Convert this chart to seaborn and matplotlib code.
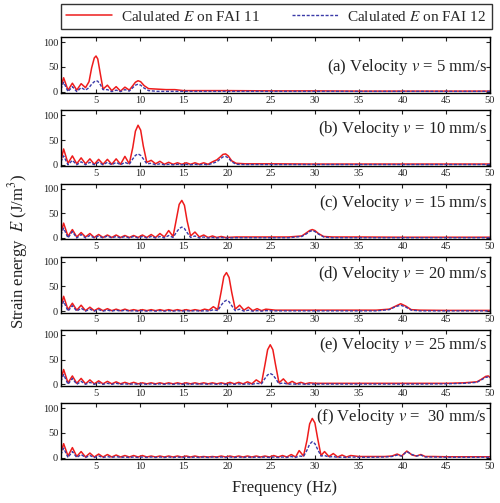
import matplotlib
matplotlib.use("Agg")
import matplotlib.pyplot as plt
import seaborn as sns
import pandas as pd

# ---------------- data ----------------
panel_labels = ["(a) Velocity $v$ = 5 mm/s", "(b) Velocity $v$ = 10 mm/s",
                "(c) Velocity $v$ = 15 mm/s", "(d) Velocity $v$ = 20 mm/s",
                "(e) Velocity $v$ = 25 mm/s", "(f) Velocity $v$ =  30 mm/s"]
series_names = ["Calulated $E$ on FAI 11", "Calulated $E$ on FAI 12"]
x_ticks = [5, 10, 15, 20, 25, 30, 35, 40, 45, 50]
y_ticks = [0, 50, 100]

freq_a = [1.0, 1.3, 1.8, 2.3, 2.8, 3.3, 3.8, 4.2, 4.5, 4.8, 5.0, 5.2, 5.5, 5.8, 6.3, 6.8, 7.3, 7.8, 8.3, 8.8,
          9.2, 9.5, 9.8, 10.1, 10.5, 11.0, 12, 13, 14, 15, 17, 20, 25, 30, 35, 40, 45, 50]
red_a = [10, 28, 3, 17, 3, 16, 8, 20, 48, 68, 72, 66, 35, 5, 13, 2, 10, 1, 9, 3,
         12, 19, 22, 20, 12, 6, 5, 4, 4, 2, 2, 2, 1.5, 1.5, 1, 1, 1, 1]
blue_a = [5, 19, 0, 10, 0, 8, 3, 8, 15, 20, 22, 21, 14, 4, 4, 0, 3, 0, 4, 1,
          8, 13, 15, 13, 7, 2, 0.5, 0.5, 0.5, 0.5, 0.5, 0.5, 0.5, 0.5, 0.5, 0.5, 0.5, 0.5]

freq_b = [1.0, 1.3, 1.8, 2.3, 2.8, 3.3, 3.8, 4.3, 4.8, 5.3, 5.8, 6.3, 6.8, 7.3, 7.8, 8.3, 8.8, 9.2, 9.5, 9.8,
          10.1, 10.4, 10.8, 11.3, 11.8, 12.3, 12.8, 13.3, 13.8, 14.3, 14.8, 15.3, 15.8, 16.3, 16.8, 17.3, 17.8,
          18.3, 18.8, 19.2, 19.5, 19.8, 20.1, 20.5, 21.0, 22, 23, 25, 30, 35, 40, 45, 50]
red_b = [8, 32, 3, 18, 2, 14, 2, 12, 1, 11, 1, 11, 1, 12, 1, 17, 2, 35, 68, 80,
         70, 38, 5, 9, 2, 7, 1, 5, 1, 4, 1, 4, 1, 4, 1, 4, 1,
         6, 10, 16, 21, 22, 18, 8, 3, 2, 2, 2, 1.5, 1.5, 1.5, 1.5, 1.5]
blue_b = [6, 18, 0, 9, 0, 6, 0, 5, 0, 5, 0, 5, 0, 5, 0, 5, 1, 12, 19, 22,
          19, 12, 2, 3, 0, 2, 0, 1, 0, 1, 0, 1, 0, 1, 0, 1, 0,
          3, 6, 12, 16, 17, 14, 6, 1, 0.5, 0.5, 0.5, 0.5, 0.5, 0.5, 0.5, 0.5]

freq_c = [1.0, 1.3, 1.8, 2.3, 2.8, 3.3, 3.8, 4.3, 4.8, 5.3, 5.8, 6.3, 6.8, 7.3, 7.8, 8.3, 8.8, 9.3, 9.8, 10.3,
          10.8, 11.3, 11.8, 12.3, 12.8, 13.3, 13.8, 14.2, 14.5, 14.8, 15.1, 15.4, 15.8, 16.3, 16.8, 17.3, 17.8,
          18.3, 18.8, 19.3, 19.8, 21, 23, 25, 27, 28.5, 29.0, 29.4, 29.7, 30.0, 30.4, 31.0, 32, 35, 40, 45, 50]
red_c = [10, 30, 3, 17, 2, 11, 2, 9, 1, 7, 1, 6, 1, 6, 1, 5, 1, 5, 1, 6,
         1, 7, 1, 9, 2, 15, 3, 40, 68, 76, 66, 35, 4, 12, 2, 6, 1,
         4, 1, 3, 1, 2, 2, 2, 2, 4, 10, 15, 17, 15, 9, 3, 2, 2, 1.5, 1.5, 1.5]
blue_c = [6, 20, 0, 13, 0, 7, 0, 5, 0, 4, 0, 4, 0, 3, 0, 3, 0, 3, 0, 3,
          0, 3, 0, 3, 0, 5, 1, 12, 19, 22, 19, 11, 1, 4, 0, 2, 0,
          1, 0, 1, 0, 0.5, 0.5, 0.5, 0.5, 3, 8, 13, 15, 13, 8, 2, 0.5, 0.5, 0.5, 0.5, 0.5]

freq_d = [1.0, 1.3, 1.8, 2.3, 2.8, 3.3, 3.8, 4.3, 4.8, 5.3, 5.8, 6.3, 6.8, 7.3, 7.8, 8.3, 8.8, 9.3, 9.8, 10.3,
          10.8, 11.3, 11.8, 12.3, 12.8, 13.3, 13.8, 14.3, 14.8, 15.3, 15.8, 16.3, 16.9, 17.4, 17.9,
          18.4, 18.9, 19.3, 19.6, 19.9, 20.2, 20.5, 20.9, 21.4, 21.9, 22.4, 22.9, 23.4, 23.9, 24.4,
          25.5, 28, 31, 34, 37, 38.5, 39.2, 39.8, 40.4, 41.0, 42, 45, 50]
red_d = [10, 30, 3, 16, 2, 12, 1, 8, 1, 6, 1, 5, 1, 4, 1, 4, 1, 3, 1, 3,
         1, 3, 1, 3, 1, 3, 1, 3, 1, 3, 1, 3, 1, 4, 2,
         9, 3, 40, 70, 78, 68, 38, 4, 12, 2, 8, 1, 5, 1, 4,
         2, 2, 2, 2, 2, 4, 10, 15, 10, 3, 2, 1.5, 1.5]
blue_d = [6, 20, 0, 11, 0, 6, 0, 4, 0, 3, 0, 2, 0, 2, 0, 2, 0, 1, 0, 1,
          0, 1, 0, 1, 0, 1, 0, 1, 0, 1, 0, 1, 0, 1, 0,
          3, 1, 12, 19, 22, 19, 11, 1, 4, 0, 2, 0, 1, 0, 1,
          0.5, 0.5, 0.5, 0.5, 0.5, 3, 9, 12, 8, 2, 0.5, 0.5, 0.5]

freq_e = [1.0, 1.3, 1.8, 2.3, 2.8, 3.3, 3.8, 4.3, 4.8, 5.3, 5.8, 6.3, 6.8, 7.3, 7.8, 8.3, 8.8, 9.3, 9.8, 10.3,
          10.8, 11.3, 11.8, 12.3, 12.8, 13.3, 13.8, 14.3, 14.8, 15.3, 15.8, 16.3, 16.8, 17.3, 17.8,
          18.3, 18.8, 19.3, 19.8, 20.3, 20.8, 21.3, 21.8, 22.3, 22.8, 23.3, 23.9, 24.3, 24.6, 24.9,
          25.2, 25.5, 25.9, 26.4, 26.9, 27.4, 27.9, 28.4, 28.9, 29.4, 30, 33, 36, 39, 42,
          45, 47, 48.5, 49.0, 49.5, 49.8, 50]
red_e = [10, 30, 3, 17, 2, 12, 1, 9, 1, 7, 1, 6, 1, 5, 1, 4, 1, 4, 1, 3,
         1, 3, 1, 3, 1, 3, 1, 3, 1, 3, 1, 3, 1, 3, 1,
         3, 1, 3, 1, 4, 1, 4, 1, 5, 1, 9, 2, 40, 70, 80,
         70, 40, 3, 11, 1, 6, 1, 4, 1, 3, 2, 2, 2, 2, 2,
         2, 3, 5, 10, 16, 17, 14]
blue_e = [6, 20, 0, 12, 0, 6, 0, 4, 0, 3, 0, 2, 0, 2, 0, 1, 0, 1, 0, 1,
          0, 1, 0, 1, 0, 1, 0, 1, 0, 1, 0, 1, 0, 1, 0,
          1, 0, 1, 0, 1, 0, 1, 0, 1, 0, 2, 1, 12, 19, 22,
          19, 12, 1, 3, 0, 1, 0, 1, 0, 0.5, 0.5, 0.5, 0.5, 0.5, 0.5,
          1, 2, 4, 9, 14, 15, 13]

freq_f = [1.0, 1.3, 1.8, 2.3, 2.8, 3.3, 3.8, 4.3, 4.8, 5.3, 5.8, 6.3, 6.8, 7.3, 7.8, 8.3, 8.8, 9.3, 9.8, 10.3,
          10.8, 11.3, 11.8, 12.3, 12.8, 13.3, 13.8, 14.3, 14.8, 15.3, 15.8, 16.3, 16.8, 17.3, 17.8,
          18.3, 18.8, 19.3, 19.8, 20.3, 20.8, 21.3, 21.8, 22.3, 22.8, 23.3, 23.8, 24.3, 24.8, 25.3,
          25.8, 26.3, 26.8, 27.3, 27.8,
          28.2, 28.7, 29.1, 29.4, 29.7, 30.0, 30.3, 30.7, 31.1, 31.6, 32.1, 32.6, 33.1, 33.6, 34.1,
          35, 36.5, 38, 38.8, 39.4, 39.9, 40.5, 41.1, 41.6, 42.1, 42.6, 43.5, 45, 47, 50]
red_f = [10, 28, 3, 20, 2, 12, 1, 9, 1, 7, 1, 6, 1, 5, 1, 4, 1, 4, 1, 4,
         1, 3, 1, 3, 1, 3, 1, 3, 1, 3, 1, 3, 1, 2, 1,
         2, 1, 3, 1, 3, 1, 3, 1, 3, 1, 3, 1, 3, 1, 4,
         1, 4, 1, 6, 1,
         14, 3, 35, 68, 79, 70, 40, 4, 12, 2, 8, 1, 5, 1, 4,
         2, 2, 2, 3, 7, 3, 13, 5, 3, 6, 2, 2, 1.5, 1.5, 1.5]
blue_f = [6, 19, 0, 12, 0, 6, 0, 4, 0, 3, 0, 2, 0, 2, 0, 1, 0, 1, 0, 1,
          0, 1, 0, 1, 0, 1, 0, 1, 0, 1, 0, 1, 0, 1, 0,
          1, 0, 1, 0, 1, 0, 1, 0, 1, 0, 1, 0, 1, 0, 1,
          0, 1, 0, 2, 0,
          3, 2, 15, 27, 32, 28, 17, 3, 4, 1, 2, 0, 1, 0, 1,
          0.5, 0.5, 1, 2, 5, 3, 12, 6, 3, 5, 1, 1, 0.5, 0.5, 0.5]

panels = [(freq_a, red_a, blue_a), (freq_b, red_b, blue_b), (freq_c, red_c, blue_c),
          (freq_d, red_d, blue_d), (freq_e, red_e, blue_e), (freq_f, red_f, blue_f)]

# ---------------- style ----------------
sns.set_style("ticks")
plt.rcParams["font.family"] = ["Liberation Serif", "DejaVu Serif"]
plt.rcParams["mathtext.fontset"] = "stix"
plt.rcParams["axes.linewidth"] = 1.0

RED = "#ee1c1c"
BLUE = "#3a3aa8"
label_y = [0.47, 0.66, 0.65, 0.70, 0.73, 0.76]

fig, axes = plt.subplots(6, 1, figsize=(5.0, 5.03), dpi=100)
fig.subplots_adjust(left=0.122, right=0.98, top=0.926, bottom=0.0875, hspace=0.31)

for i, (ax, (fr, rv, bv)) in enumerate(zip(axes, panels)):
    df = pd.DataFrame({"f": fr, "red": rv, "blue": bv})
    sns.lineplot(data=df, x="f", y="red", ax=ax, color=RED, lw=1.1,
                 estimator=None, sort=False, label=series_names[0] if i == 0 else None,
                 legend=False)
    sns.lineplot(data=df, x="f", y="blue", ax=ax, color=BLUE, lw=1.0,
                 linestyle=(0, (2.2, 1.2)), estimator=None, sort=False,
                 label=series_names[1] if i == 0 else None, legend=False)
    ax.set_xlim(1, 50)
    ax.set_ylim(-3, 110)
    ax.set_xticks(x_ticks)
    ax.set_xticklabels([str(t) for t in x_ticks])
    ax.set_yticks(y_ticks)
    ax.set_yticklabels([str(t) for t in y_ticks])
    ax.tick_params(direction="in", top=True, right=True, length=3, width=0.8,
                   labelsize=7.5, pad=2, colors="#222222")
    ax.set_xlabel("")
    ax.set_ylabel("")
    for sp in ax.spines.values():
        sp.set_color("black")
        sp.set_linewidth(1.0)
    ax.text(0.993, label_y[i], panel_labels[i], transform=ax.transAxes,
            ha="right", va="center", fontsize=12, color="#222222")

handles, labels = axes[0].get_legend_handles_labels()
leg = fig.legend(handles, labels, loc="lower left", ncol=2, mode="expand",
                 bbox_to_anchor=(0.122, 0.942, 0.862, 0.054), fontsize=11,
                 frameon=True, fancybox=False, edgecolor="black",
                 handlelength=3.0, borderaxespad=0.0, columnspacing=1.0,
                 handletextpad=0.6, borderpad=0.35)
leg.get_frame().set_linewidth(1.0)

fig.text(0.036, 0.5, "Strain energy  $E$ (J/m$^3$)", rotation=90,
         ha="center", va="center", fontsize=12, color="#222222")
fig.text(0.57, 0.03, "Frequency (Hz)", ha="center", va="center",
         fontsize=12, color="#222222")

fig.savefig("out.png", dpi=100)
